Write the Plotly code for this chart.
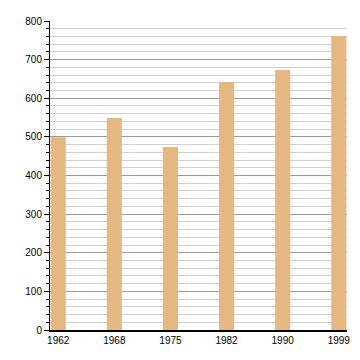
import plotly.graph_objects as go

years = ["1962", "1968", "1975", "1982", "1990", "1999"]
values = [499, 549, 474, 642, 673, 761]

fig = go.Figure()
fig.add_trace(go.Bar(
    x=list(range(len(years))), y=values, width=0.27,
    marker=dict(color="#E5B881", line=dict(width=0)),
))
fig.update_layout(
    width=360, height=360,
    margin=dict(l=50, r=10, t=21, b=30),
    paper_bgcolor="white", plot_bgcolor="white",
    showlegend=False,
    font=dict(family="Liberation Sans, Arial, sans-serif", size=10, color="black"),
    xaxis=dict(
        range=[-0.146, 5.146], tickvals=list(range(len(years))), ticktext=years,
        showgrid=False, showline=True, linecolor="black", linewidth=1.5,
        ticks="", ticklen=0, zeroline=False, fixedrange=True,
    ),
    yaxis=dict(
        range=[0, 800], dtick=100, showgrid=True, gridcolor="#999999", gridwidth=1,
        showline=True, linecolor="black", linewidth=1, ticks="outside", ticklen=5,
        tickcolor="black", zeroline=False,
        minor=dict(dtick=20, showgrid=True, gridcolor="#d0d0d0", gridwidth=1,
                   ticks="outside", ticklen=3, tickcolor="black"),
    ),
)
fig.write_html("out.html")
